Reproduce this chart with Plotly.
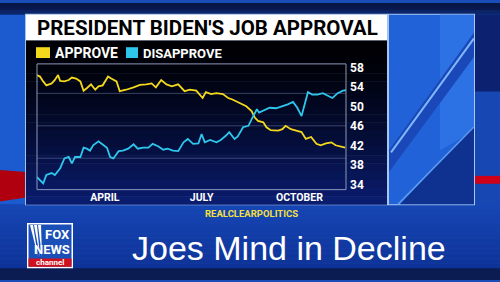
import plotly.graph_objects as go
import pandas as pd

# ---------------- data ----------------
approve_day = [26, 29, 32, 35, 40, 43, 46, 48, 52, 56, 59, 63, 67, 70, 73, 77, 81, 84, 88,
               93, 96, 101, 104, 107, 110, 117, 123, 129, 134, 138, 143, 148, 153, 159,
               165, 170, 176, 182, 185, 190, 195, 201, 206, 210, 217, 223, 228, 231, 234,
               239, 242, 246, 253, 257, 260, 265, 270, 275, 279, 284, 289, 293, 298, 303,
               307, 312, 316]
approve = [56.5, 56.2, 55.2, 54.4, 54.8, 55.5, 56.5, 55.3, 55.2, 55.5, 56.0, 55.8, 55.2,
           53.3, 53.8, 54.6, 53.5, 54.2, 54.4, 56.2, 55.8, 55.2, 53.2, 53.3, 53.5, 54.0,
           54.5, 54.6, 54.8, 54.0, 55.5, 54.6, 54.2, 54.6, 53.2, 53.5, 53.3, 51.8, 53.0,
           52.6, 52.8, 52.6, 51.8, 51.5, 50.8, 50.1, 49.1, 47.8, 47.1, 46.8, 45.8, 45.2,
           45.1, 45.4, 46.1, 45.4, 45.1, 44.8, 43.4, 43.8, 42.4, 42.1, 42.5, 42.7, 42.1,
           41.9, 41.6]

disapprove_day = [26, 29, 32, 35, 40, 43, 48, 52, 56, 59, 62, 67, 70, 73, 76, 79, 84, 87,
                  92, 95, 98, 103, 107, 112, 117, 121, 126, 131, 135, 140, 145, 149, 154,
                  159, 164, 168, 173, 178, 181, 184, 189, 195, 199, 204, 207, 212, 215,
                  220, 225, 228, 231, 233, 235, 240, 245, 251, 257, 262, 267, 271, 275,
                  278, 281, 285, 290, 295, 299, 304, 309, 314, 317]
disapprove = [35.6, 35.0, 34.3, 36.0, 36.4, 36.0, 37.4, 39.4, 39.7, 38.4, 39.7, 39.7, 41.6,
              41.4, 41.0, 42.1, 42.9, 42.4, 41.6, 39.7, 39.4, 40.9, 41.0, 41.4, 42.3, 41.4,
              41.6, 41.6, 42.4, 41.9, 41.2, 41.4, 41.0, 40.9, 42.7, 43.4, 42.4, 42.5, 44.4,
              42.7, 43.2, 42.7, 43.2, 44.1, 44.8, 43.4, 43.9, 45.8, 46.1, 47.4, 48.5, 49.5,
              48.8, 49.3, 49.8, 49.7, 50.1, 50.5, 51.0, 49.8, 48.1, 50.5, 53.0, 52.5, 52.5,
              52.8, 52.4, 51.8, 52.8, 53.3, 53.4]

tick_days = [90, 181, 273]
tick_labels = ["APRIL", "JULY", "OCTOBER"]
y_ticks = [34, 38, 42, 46, 50, 54, 58]

base = pd.Timestamp("2021-01-01")
def to_date(days):
    return base + pd.to_timedelta(days, unit="D")

W, H = 500, 282
def X(px): return px / W
def Y(py): return 1 - py / H

YELLOW = "#f4d81c"
CYAN = "#2fc6ec"
FONT_N = "Roboto, Liberation Sans, sans-serif"

fig = go.Figure()
fig.add_trace(go.Scatter(x=to_date(approve_day), y=approve, mode="lines",
                         line=dict(color=YELLOW, width=1.8), showlegend=False))
fig.add_trace(go.Scatter(x=to_date(disapprove_day), y=disapprove, mode="lines",
                         line=dict(color=CYAN, width=1.8), showlegend=False))

shapes = []
def rect(x0, y0, x1, y1, color, line=None, lw=0, layer="below"):
    shapes.append(dict(type="rect", xref="paper", yref="paper",
                       x0=X(x0), x1=X(x1), y0=Y(y1), y1=Y(y0),
                       fillcolor=color, line=dict(color=line or color, width=lw),
                       layer=layer))

def lerp(c0, c1, t):
    return "rgb(%d,%d,%d)" % tuple(int(a + (b - a) * t) for a, b in zip(c0, c1))

# broadcast background
rect(0, 0, 500, 282, "#1a4db8")
for i in range(12):
    t = i / 11
    rect(0, i, 500, i + 1, lerp((8, 22, 70), (10, 30, 90), t))
rect(0, 12, 26, 205, "#1c5ad0")
rect(474, 12, 500, 205, "#1747b2")
rect(474, 12, 500, 90, "#0c2270")
for i in range(14):
    t = i / 13
    rect(0, 205 + i * 5, 500, 210 + i * 5, lerp((22, 70, 180), (14, 50, 150), t))
rect(0, 270, 500, 282, "#0a1c52")
# red stripes at the edges
shapes.append(dict(type="path", xref="paper", yref="paper",
                   path="M %f %f L %f %f L %f %f L %f %f Z" % (X(0), Y(170), X(26), Y(172), X(26), Y(198), X(0), Y(202)),
                   fillcolor="#b00010", line=dict(width=0), layer="below"))
rect(475, 176, 500, 184, "#d00018")

# black chart panel with gradient
rect(25, 11, 388, 206, "#9fc4ee")
n = 20
for i in range(n):
    t = i / (n - 1)
    y0 = 38 + i * (167 / n)
    rect(26, y0, 387, y0 + 167 / n + 0.5, lerp((0, 0, 4), (10, 28, 110), t ** 1.4))
# title box
rect(26, 12, 387, 38, "#ffffff")

# right decorative panel
rect(387.5, 11, 475, 206, "#a8c8f0")
rect(389, 12, 474, 205, "#2262d8")
shapes.append(dict(type="path", xref="paper", yref="paper",
                   path="M %f %f L %f %f L %f %f L %f %f Z" % (X(440), Y(12), X(474), Y(12), X(474), Y(130), X(440), Y(150)),
                   fillcolor="#2d72e4", line=dict(width=0), layer="below"))
shapes.append(dict(type="path", xref="paper", yref="paper",
                   path="M %f %f L %f %f L %f %f L %f %f Z" % (X(389), Y(205), X(474), Y(205), X(474), Y(125), X(400), Y(205)),
                   fillcolor="#0f3290", line=dict(width=0), layer="below"))
shapes.append(dict(type="path", xref="paper", yref="paper",
                   path="M %f %f L %f %f L %f %f L %f %f Z" % (X(389), Y(150), X(474), Y(30), X(474), Y(55), X(389), Y(172)),
                   fillcolor="#1a48b8", line=dict(width=0), layer="below"))
shapes.append(dict(type="line", xref="paper", yref="paper",
                   x0=X(391), y0=Y(152), x1=X(474), y1=Y(36),
                   line=dict(color="#7fb8ff", width=2), layer="below"))
shapes.append(dict(type="line", xref="paper", yref="paper",
                   x0=X(398), y0=Y(205), x1=X(474), y1=Y(126),
                   line=dict(color="#5c9cf0", width=1.5), layer="below"))

# legend squares
rect(36, 45, 50, 56, YELLOW)
rect(126, 45, 138, 56, CYAN)

# gridlines and plot frame
for gy in [92, 125, 158]:
    shapes.append(dict(type="line", xref="paper", yref="paper",
                       x0=X(37), x1=X(346), y0=Y(gy), y1=Y(gy),
                       line=dict(color="rgba(120,140,190,0.45)", width=1), layer="below"))
shapes.append(dict(type="rect", xref="x domain", yref="y domain", x0=0, x1=1, y0=0, y1=1,
                   line=dict(color="#8a9ab8", width=1), fillcolor="rgba(0,0,0,0)", layer="above"))

# Fox News logo
rect(27, 224, 73, 270, "#ffffff")
rect(28.5, 225.5, 71.5, 268.5, "#1b4fb8")
rect(28.5, 260, 71.5, 268.5, "#d0101c")
for k, (x0, x1) in enumerate([(30, 38), (34, 40), (38, 42)]):
    shapes.append(dict(type="path", xref="paper", yref="paper",
                       path="M %f %f L %f %f L %f %f Z" % (X(x0), Y(226), X(x0 + 3), Y(226), X(x1), Y(258)),
                       fillcolor="#ffffff", line=dict(width=0), layer="below"))

annotations = [
    dict(text="<b>PRESIDENT BIDEN'S JOB APPROVAL</b>", x=X(207), y=Y(25), xref="paper", yref="paper",
         showarrow=False, font=dict(family=FONT_N, size=20.5, color="#000000"), xanchor="center", yanchor="middle"),
    dict(text="<b>APPROVE</b>", x=X(53), y=Y(51), xref="paper", yref="paper", showarrow=False,
         font=dict(family=FONT_N, size=14, color="#ffffff"), xanchor="left", yanchor="middle"),
    dict(text="<b>DISAPPROVE</b>", x=X(141), y=Y(51), xref="paper", yref="paper", showarrow=False,
         font=dict(family=FONT_N, size=13, color="#ffffff"), xanchor="left", yanchor="middle"),
    dict(text="<b>REALCLEARPOLITICS</b>", x=X(251), y=Y(214), xref="paper", yref="paper", showarrow=False,
         font=dict(family=FONT_N, size=9.5, color="#f4e040"), xanchor="center", yanchor="middle"),
    dict(text="<b>FOX</b>", x=X(72), y=Y(236), xref="paper", yref="paper", showarrow=False,
         font=dict(family=FONT_N, size=13, color="#ffffff"), xanchor="right", yanchor="middle"),
    dict(text="<b>NEWS</b>", x=X(72), y=Y(251), xref="paper", yref="paper", showarrow=False,
         font=dict(family=FONT_N, size=13, color="#ffffff"), xanchor="right", yanchor="middle"),
    dict(text="<b>channel</b>", x=X(50), y=Y(264.5), xref="paper", yref="paper", showarrow=False,
         font=dict(family=FONT_N, size=8, color="#ffffff"), xanchor="center", yanchor="middle"),
    dict(text="Joes Mind in Decline", x=X(289), y=Y(249), xref="paper", yref="paper", showarrow=False,
         font=dict(family="Liberation Sans, Arial, sans-serif", size=34, color="#ffffff"),
         xanchor="center", yanchor="middle"),
]

fig.update_layout(
    width=W, height=H, margin=dict(l=0, r=0, t=0, b=0),
    paper_bgcolor="#1a4db8", plot_bgcolor="rgba(0,0,0,0)",
    shapes=shapes, annotations=annotations, showlegend=False,
    xaxis=dict(domain=[X(37), X(346)], type="date",
               range=[to_date(26.2), to_date(316.8)],
               tickvals=to_date(tick_days), ticktext=["<b>%s</b>" % t for t in tick_labels],
               tickfont=dict(family=FONT_N, size=10.5, color="#ffffff"),
               showgrid=False, zeroline=False, ticks="", showline=False),
    yaxis=dict(domain=[Y(190), Y(62)], range=[33.0, 58.8], side="right",
               tickvals=y_ticks, ticktext=["<b>%d</b>" % v for v in y_ticks],
               tickfont=dict(family=FONT_N, size=12, color="#ffffff"),
               showgrid=False, zeroline=False, ticks="", showline=False,
               ticklabelstandoff=3),
)

fig.write_html("out.html")
